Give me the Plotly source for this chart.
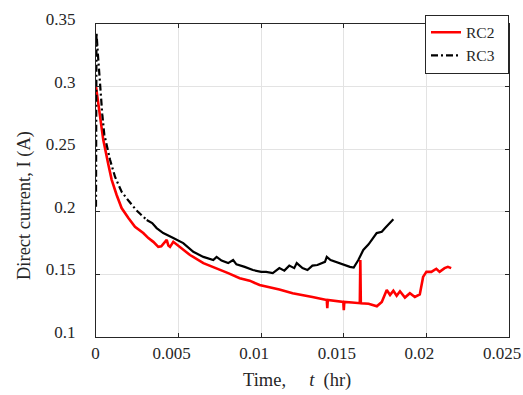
import plotly.graph_objects as go

# ---- data ----
rc2_t = [0.0, 0.00015, 0.00030, 0.00044, 0.00075, 0.00095, 0.00125, 0.00155, 0.00196, 0.00236,
         0.00286, 0.00317, 0.00347, 0.00377, 0.00395, 0.00428, 0.00438, 0.00448, 0.00468, 0.00508,
         0.00569, 0.0065, 0.0073, 0.0080, 0.0087, 0.0093, 0.0099, 0.0105, 0.0111, 0.0119,
         0.0126, 0.0131, 0.01397, 0.0140, 0.01403, 0.0145, 0.01497, 0.0150, 0.01503, 0.0155,
         0.01597, 0.0160, 0.01603, 0.0165, 0.0170, 0.0173, 0.0176, 0.0178, 0.0180, 0.0182,
         0.0184, 0.0187, 0.0190, 0.0193, 0.0196, 0.0198, 0.0200, 0.0203, 0.0206, 0.0208,
         0.0211, 0.0213, 0.0215]
rc2_i = [0.300, 0.285, 0.270, 0.2575, 0.2375, 0.2255, 0.2134, 0.203, 0.195, 0.188,
         0.183, 0.179, 0.176, 0.172, 0.1725, 0.1775, 0.173, 0.172, 0.176, 0.172,
         0.1655, 0.159, 0.155, 0.151, 0.147, 0.145, 0.1415, 0.140, 0.138, 0.135,
         0.1335, 0.132, 0.1295, 0.123, 0.1295, 0.1285, 0.128, 0.1215, 0.128, 0.1275,
         0.127, 0.1615, 0.127, 0.1265, 0.1245, 0.128, 0.1375, 0.1335, 0.137, 0.133,
         0.1365, 0.1315, 0.135, 0.132, 0.134, 0.148, 0.152, 0.152, 0.1545, 0.152,
         0.155, 0.156, 0.155]

rc3_t = [0.0, 0.00003, 0.00012, 0.00024, 0.00038, 0.00050, 0.00085, 0.00115, 0.00155, 0.00196,
         0.00246, 0.00307, 0.0034, 0.00367, 0.00407, 0.00468, 0.00528, 0.00589, 0.0065, 0.0071,
         0.0073, 0.0076, 0.0080, 0.0083, 0.0085, 0.0090, 0.0095, 0.0100, 0.0103, 0.0107,
         0.0111, 0.0114, 0.0117, 0.0120, 0.01215, 0.0125, 0.0128, 0.0131, 0.0134, 0.01386,
         0.01397, 0.0142, 0.0145, 0.01477, 0.01537, 0.0156, 0.01588, 0.01618, 0.0165, 0.01699,
         0.0173, 0.0175, 0.0177, 0.0179, 0.0180]
rc3_i = [0.204, 0.343, 0.325, 0.300, 0.278, 0.262, 0.2415, 0.228, 0.216, 0.209,
         0.201, 0.1935, 0.191, 0.187, 0.183, 0.179, 0.175, 0.168, 0.164, 0.1615,
         0.164, 0.161, 0.159, 0.1615, 0.158, 0.156, 0.1535, 0.152, 0.152, 0.151,
         0.155, 0.153, 0.157, 0.155, 0.159, 0.155, 0.1535, 0.157, 0.1575, 0.160,
         0.164, 0.1615, 0.160, 0.159, 0.156, 0.1555, 0.1615, 0.1695, 0.174, 0.183,
         0.184, 0.187, 0.190, 0.193, 0.194]

x_ticks = [0, 0.005, 0.01, 0.015, 0.02, 0.025]
x_tick_labels = ["0", "0.005", "0.01", "0.015", "0.02", "0.025"]
y_ticks = [0.1, 0.15, 0.2, 0.25, 0.3, 0.35]
y_tick_labels = ["0.1", "0.15", "0.2", "0.25", "0.3", "0.35"]

# index where the RC3 line stops looking dash-dotted
split = 11

FONT = "Liberation Serif"
AX = "#262626"

fig = go.Figure()
fig.add_trace(go.Scatter(x=rc2_t, y=rc2_i, mode="lines", name="RC2" + "&nbsp;" * 2,
                         line=dict(color="#ff0000", width=2.6)))
fig.add_trace(go.Scatter(x=rc3_t[:split + 1], y=rc3_i[:split + 1], mode="lines",
                         name="RC3" + "&nbsp;" * 2,
                         line=dict(color="#000000", width=2.2, dash="7px,3px,2px,3px")))
fig.add_trace(go.Scatter(x=rc3_t[split:], y=rc3_i[split:], mode="lines", name="RC3",
                         showlegend=False, line=dict(color="#000000", width=2.2)))

axis_common = dict(showline=True, linecolor=AX, linewidth=1, mirror="ticks",
                   ticks="inside", ticklen=4, tickcolor=AX, automargin=False,
                   showgrid=True, gridcolor="#e3e3e3", gridwidth=1, zeroline=False,
                   tickfont=dict(family=FONT, size=17, color="#262626"))

# the reference's x labels sit ~7px left of their ticks (except the "0")
x_text = ["&nbsp;&nbsp;&nbsp;" + lab if lab == "0" else lab for lab in x_tick_labels]

fig.update_layout(
    width=523, height=395,
    margin=dict(l=96, r=14, t=24, b=58),
    paper_bgcolor="white", plot_bgcolor="white",
    font=dict(family=FONT, color="#262626"),
    xaxis=dict(range=[0, 0.025], tickvals=x_ticks, ticktext=x_text,
               ticklabelstandoff=1, ticklabelshift=-7, ticklabeloverflow="allow",
               **axis_common),
    yaxis=dict(range=[0.1, 0.35], tickvals=y_ticks, ticktext=y_tick_labels,
               ticklabelstandoff=16, ticklabelshift=-5, **axis_common),
    legend=dict(x=1, y=1.03, xanchor="right", yanchor="top",
                bgcolor="white", bordercolor=AX, borderwidth=1,
                font=dict(family=FONT, size=15.5, color="#262626"),
                itemwidth=30, tracegroupgap=0),
    showlegend=True,
    annotations=[
        dict(text="Time,&nbsp;&nbsp;&nbsp;&nbsp;&nbsp;<i>t</i>&nbsp;&nbsp;(hr)",
             xref="paper", yref="paper", x=(297 - 96) / 413, y=(337 - 380) / 313,
             xanchor="center", yanchor="middle", showarrow=False,
             font=dict(family=FONT, size=18.5, color="#262626")),
        dict(text="Direct current, I (A)", textangle=-90,
             xref="paper", yref="paper", x=(24 - 96) / 413, y=(337 - 206) / 313,
             xanchor="center", yanchor="middle", showarrow=False,
             font=dict(family=FONT, size=18.5, color="#262626")),
    ],
)

# remove the browser's default 8px body margin so the figure sits at the page origin
fig.write_html("out.html", config={"displayModeBar": False},
               post_script="document.body.style.margin='0';document.body.style.overflow='hidden';")
